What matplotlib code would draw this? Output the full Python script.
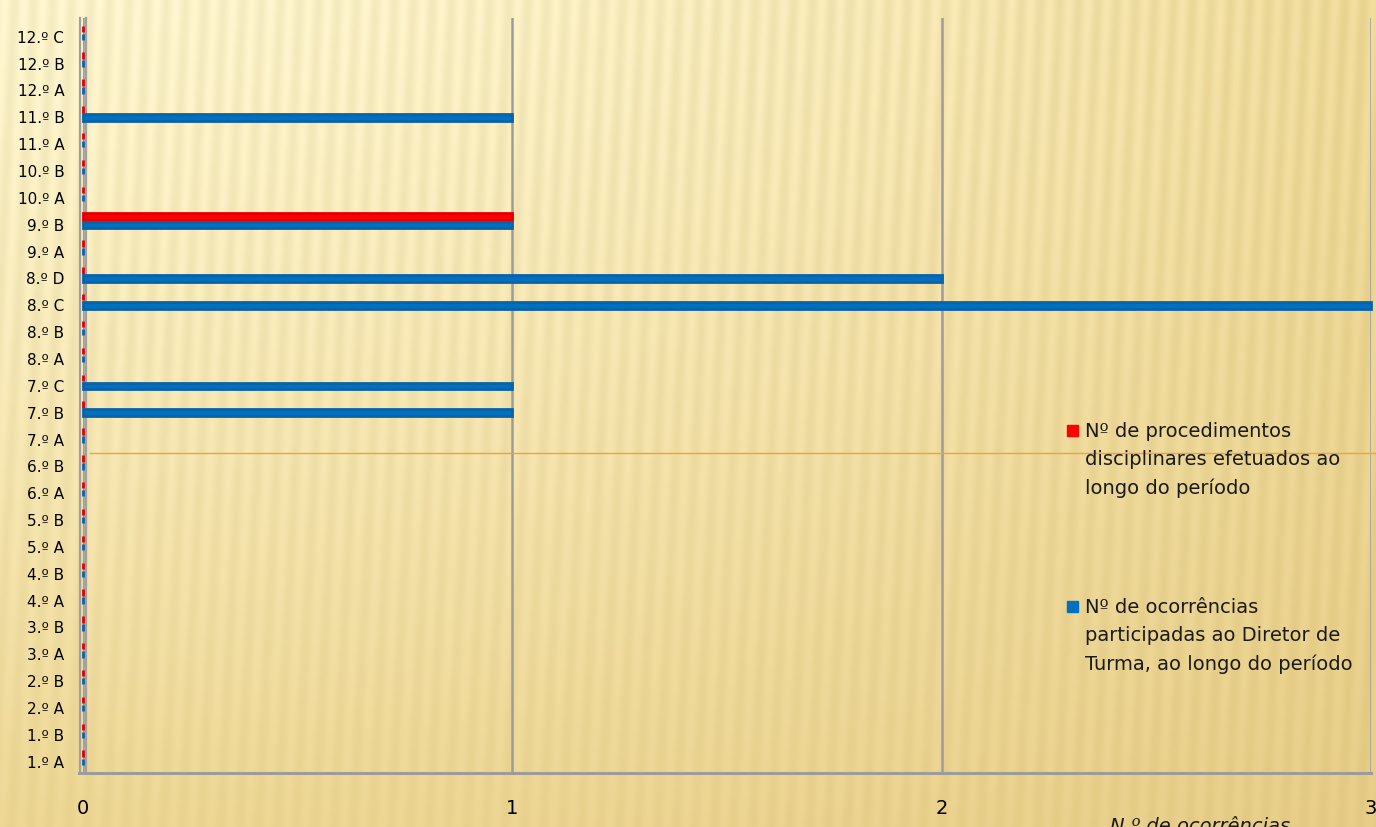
import numpy as np
import matplotlib
matplotlib.use('Agg')
import matplotlib.pyplot as plt
import matplotlib.transforms as mtransforms
from matplotlib.lines import Line2D
from matplotlib.patches import Rectangle

# turmas (de baixo para cima)
turmas = ['1.º A', '1.º B', '2.º A', '2.º B', '3.º A', '3.º B', '4.º A', '4.º B',
          '5.º A', '5.º B', '6.º A', '6.º B', '7.º A', '7.º B', '7.º C',
          '8.º A', '8.º B', '8.º C', '8.º D', '9.º A', '9.º B',
          '10.º A', '10.º B', '11.º A', '11.º B', '12.º A', '12.º B', '12.º C']
procedimentos = [0, 0, 0, 0, 0, 0, 0, 0, 0, 0, 0, 0, 0, 0, 0,
                 0, 0, 0, 0, 0, 1, 0, 0, 0, 0, 0, 0, 0]
ocorrencias = [0, 0, 0, 0, 0, 0, 0, 0, 0, 0, 0, 0, 0, 1, 1,
               0, 0, 3, 2, 0, 1, 0, 0, 0, 1, 0, 0, 0]
xticks = [0, 1, 2, 3]
label_proc = 'Nº de procedimentos\ndisciplinares efetuados ao\nlongo do período'
label_ocor = 'Nº de ocorrências\nparticipadas ao Diretor de\nTurma, ao longo do período'
xtitle = 'N.º de ocorrências'

W, H = 1376, 827
fig = plt.figure(figsize=(W / 100, H / 100), dpi=100)

# fundo com textura amarelada
yy, xx = np.mgrid[0:H, 0:W]
tx = (xx / W) ** 1.8
ty = (yy / H) ** 1.2
tl = np.array([251, 242, 202])
tr = np.array([237, 216, 150])
bl = np.array([236, 213, 146])
br = np.array([229, 203, 133])
img = ((1 - tx)[..., None] * (1 - ty)[..., None] * tl + tx[..., None] * (1 - ty)[..., None] * tr
       + (1 - tx)[..., None] * ty[..., None] * bl + tx[..., None] * ty[..., None] * br)
stripes = np.sin(2 * np.pi * (xx + 0.05 * yy) / 19.0)
amp = 5.5 * (1 - 0.5 * ty)
img = img + (stripes * amp)[..., None] * np.array([1.0, 1.0, 1.3])
img = np.clip(img, 0, 255) / 255.0
bg = fig.add_axes([0, 0, 1, 1], zorder=-10)
bg.imshow(img, aspect='auto', extent=[0, 1, 0, 1], origin='upper')
bg.axis('off')

ax = fig.add_axes([83 / W, 54 / H, 1288 / W, 755 / H])
ax.patch.set_alpha(0)

y = np.arange(len(turmas))
h = 0.24
ax.barh(y + 0.30, procedimentos, height=h, color='#FF0000', edgecolor='#E00000',
        linewidth=2.0, zorder=3, clip_on=False)
ax.barh(y, ocorrencias, height=h, color='#0070C0', edgecolor='#0A62A8',
        linewidth=2.0, zorder=3, clip_on=False)

ax.set_xlim(0, 3)
ax.set_ylim(-0.42, 27.7)
ax.set_xticks(xticks)
ax.set_xticklabels([str(v) for v in xticks], fontsize=14)
ax.set_yticks(y)
ax.set_yticklabels(turmas, fontsize=11)
ax.tick_params(axis='both', length=0)
ax.tick_params(axis='x', pad=19)
ax.tick_params(axis='y', pad=13.5)
for s in ax.spines.values():
    s.set_visible(False)
ax.grid(axis='x', color='#9c9c9c', linewidth=1.8)
ax.set_axisbelow(True)

# parede esquerda (duas linhas cinzentas) e base
xt = ax.get_xaxis_transform()
for dx in (-3, 3):
    tr_ = xt + mtransforms.ScaledTranslation(dx / 100, 0, fig.dpi_scale_trans)
    ax.plot([0, 0], [0, 1], transform=tr_, color='#a0a0a0', lw=1.6, zorder=2,
            clip_on=False)
yt = ax.get_yaxis_transform()
ax.plot([-0.003, 1], [-0.42, -0.42], transform=yt, color='#9c9c9c', lw=2.2,
        clip_on=False, zorder=2)

# linha laranja do diapositivo
fig.add_artist(Line2D([90 / W, 1], [1 - 453 / H] * 2, color='#F2A23A', lw=1.0,
                      zorder=1))

# legenda
for sy, col, lab in [(425, '#FF0000', label_proc), (601, '#0070C0', label_ocor)]:
    fig.add_artist(Rectangle((1067 / W, 1 - (sy + 11) / H), 11 / W, 11 / H,
                             color=col, transform=fig.transFigure, zorder=5))
    fig.text(1085 / W, 1 - (sy - 3) / H, lab, fontsize=14, color='#1a1a1a',
             ha='left', va='top', linespacing=1.62, zorder=5)

fig.text(1200 / W, 1 - 817 / H, xtitle, fontsize=14, style='italic',
         color='#1a1a1a', ha='center', va='top')

fig.savefig('out.png', dpi=100)
